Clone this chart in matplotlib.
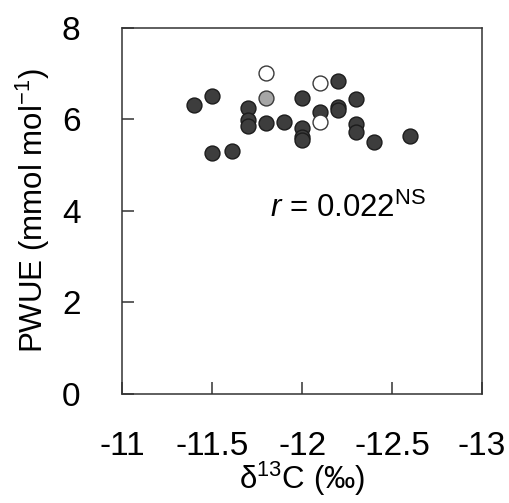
import matplotlib
matplotlib.use("Agg")
import matplotlib.pyplot as plt

plt.rcParams['font.family'] = ['Liberation Sans', 'DejaVu Sans']
plt.rcParams['mathtext.fontset'] = 'custom'
plt.rcParams['mathtext.rm'] = 'Liberation Sans'
plt.rcParams['mathtext.it'] = 'Liberation Sans:italic'
plt.rcParams['axes.unicode_minus'] = False

# dark filled points
dark_x = [-11.40, -11.50, -11.50, -11.61, -11.70, -11.70, -11.70, -11.80, -11.90,
          -12.00, -12.00, -12.00, -12.00, -12.10, -12.20, -12.20, -12.20,
          -12.30, -12.30, -12.30, -12.40, -12.60]
dark_y = [6.31, 6.51, 5.25, 5.31, 6.25, 5.98, 5.85, 5.91, 5.94,
          6.47, 5.81, 5.60, 5.54, 6.15, 6.84, 6.26, 6.20,
          6.44, 5.89, 5.72, 5.50, 5.64]
# open points
open_x = [-11.80, -12.10, -12.10]
open_y = [7.00, 6.79, 5.93]
# grey point
grey_x = [-11.80]
grey_y = [6.47]

xticks = [-11, -11.5, -12, -12.5, -13]
yticks = [0, 2, 4, 6, 8]

fs = 24

fig = plt.figure(figsize=(5.09, 5.03), dpi=100)
ax = fig.add_axes([0.240, 0.2175, 0.707, 0.7275])

ax.scatter(dark_x, dark_y, s=115, facecolor='#3d3d3d', edgecolor='#1c1c1c', linewidth=1.0, zorder=3)
ax.scatter(grey_x, grey_y, s=115, facecolor='#a6a6a6', edgecolor='#3a3a3a', linewidth=1.0, zorder=3)
ax.scatter(open_x, open_y, s=115, facecolor='white', edgecolor='#3a3a3a', linewidth=1.0, zorder=3)

ax.set_xlim(-11, -13)
ax.set_ylim(0, 8)
ax.set_xticks(xticks)
ax.set_xticklabels([f"{v:g}" for v in xticks])
ax.set_yticks(yticks)

for sp in ax.spines.values():
    sp.set_color('#333333')
    sp.set_linewidth(1.1)

ax.tick_params(direction='in', length=8.5, width=1.1, color='#333333',
               labelsize=fs, top=False, right=False)
ax.tick_params(axis='x', pad=27)
ax.tick_params(axis='y', pad=30)

ax.set_xlabel('δ$^{13}$C (‰)', fontsize=22.5, labelpad=-2)
ax.set_ylabel('PWUE (mmol mol$^{-1}$)', fontsize=22.5, labelpad=7)

ax.text(-11.82, 4.05, r'$\mathit{r}$ = 0.022$^{\mathrm{NS}}$', fontsize=22.5, va='center', ha='left')

fig.savefig('out.png', dpi=100)
